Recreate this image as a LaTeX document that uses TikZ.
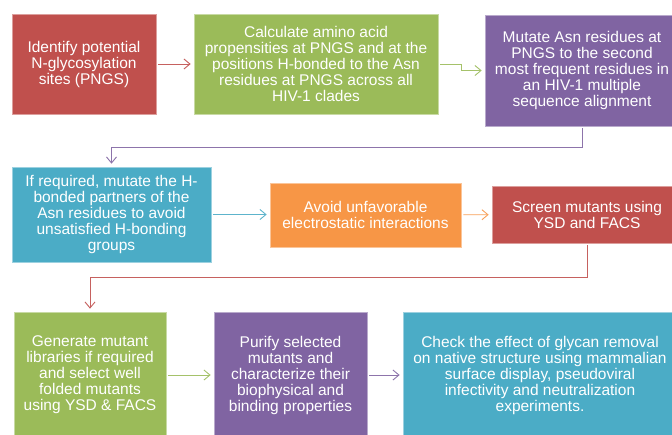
\documentclass[tikz,border=0pt]{standalone}
\usepackage{fontspec}
\setmainfont{Liberation Sans}
\usetikzlibrary{arrows.meta}
\definecolor{stepred}{HTML}{C0504D}
\definecolor{stepgreen}{HTML}{9BBB59}
\definecolor{steppurple}{HTML}{8064A2}
\definecolor{stepblue}{HTML}{4BACC6}
\definecolor{steporange}{HTML}{F79646}
\begin{document}
\begin{tikzpicture}[x=1pt, y=-1pt,
    stepbox/.style={fill=#1, draw=#1!55!white, line width=0.7pt, text=white,
        align=center, inner sep=0pt,
        font=\fontsize{15.5}{16}\selectfont},
    link/.style={draw=#1!90!white, line width=0.9pt,
        shorten <=2pt, shorten >=3pt,
        -{Straight Barb[length=6pt, width=10pt]}}]
    \clip (0,0) rectangle (672,434);
    \fill[white] (0,0) rectangle (672,434);
    % first row
    \node[stepbox=stepred, minimum width=144pt, minimum height=100pt]
        (identify) at (84,64) {Identify potential\\N-glycosylation\\sites (PNGS)};
    \node[stepbox=stepgreen, minimum width=244pt, minimum height=100pt]
        (propensity) at (316,64) {Calculate amino acid\\propensities at PNGS and at the\\positions H-bonded to the Asn\\residues at PNGS across all\\HIV-1 clades};
    \node[stepbox=steppurple, minimum width=194pt, minimum height=111pt]
        (mutate) at (582,70.5) {Mutate Asn residues at\\PNGS to the second\\most frequent residues in\\an HIV-1 multiple\\sequence alignment};
    % second row
    \node[stepbox=stepblue, minimum width=199pt, minimum height=95pt]
        (partners) at (111.5,214.5) {If required, mutate the H-\\bonded partners of the\\Asn residues to avoid\\unsatisfied H-bonding\\groups};
    \node[stepbox=steporange, minimum width=191pt, minimum height=64pt]
        (avoid) at (365.5,215) {Avoid unfavorable\\electrostatic interactions};
    \node[stepbox=stepred, minimum width=190pt, minimum height=57pt]
        (screen) at (587,214.5) {Screen mutants using\\YSD and FACS};
    % third row
    \node[stepbox=stepgreen, minimum width=152pt, minimum height=126pt]
        (library) at (90,375) {Generate mutant\\libraries if required\\and select well\\folded mutants\\using YSD \& FACS};
    \node[stepbox=steppurple, minimum width=153pt, minimum height=126pt]
        (purify) at (290.5,375) {Purify selected\\mutants and\\characterize their\\biophysical and\\binding properties};
    \node[stepbox=stepblue, minimum width=274pt, minimum height=126pt]
        (check) at (540,375) {Check the effect of glycan removal\\on native structure using mammalian\\surface display, pseudoviral\\infectivity and neutralization\\experiments.};
    % connectors
    \draw[link=stepred] (identify) -- (propensity);
    \draw[link=stepgreen] (propensity.east) -- ++(23,0) |- (mutate.west);
    \draw[link=steppurple] (mutate.south) -- ++(0,21) -| (partners.north);
    \draw[link=stepblue] (partners.east) -- (avoid.west |- partners.east);
    \draw[link=steporange] (avoid) -- (screen);
    \draw[link=stepred] (screen.south) -- ++(0,34) -| (library.north);
    \draw[link=stepgreen] (library) -- (purify);
    \draw[link=steppurple] (purify) -- (check);
\end{tikzpicture}
\end{document}
